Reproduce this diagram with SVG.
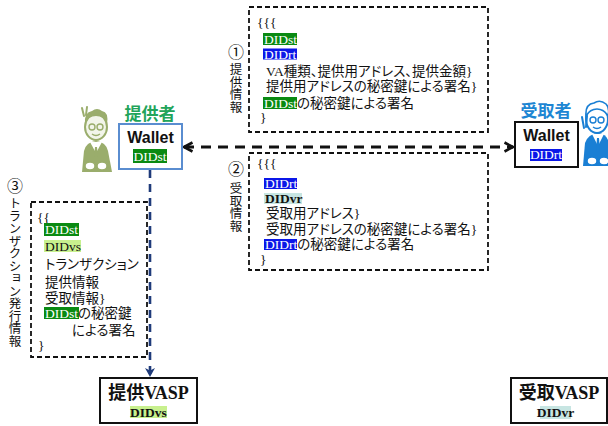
<svg xmlns="http://www.w3.org/2000/svg" width="608" height="426" viewBox="0 0 608 426">
  <style>
    .t { font-family: "Liberation Serif", "Noto Sans CJK JP", serif; font-size: 13.5px; fill: #111; font-feature-settings: "palt"; }
    .jp { font-family: "Noto Sans CJK JP", sans-serif; fill: #111; }
    .vt { font-family: "Noto Sans CJK JP", sans-serif; font-size: 12.5px; fill: #111; writing-mode: vertical-rl; }
    .num { font-family: "Noto Sans CJK JP", sans-serif; font-size: 16px; fill: #111; text-anchor: middle; }
    .w { fill: #fff; }
    .note { fill: #fff; stroke: #111; stroke-width: 1.8; stroke-dasharray: 5 3; }
    .hl-g { fill: #0a8a12; }
    .hl-b { fill: #0b17e8; }
    .hl-lg { fill: #c8f08e; }
    .hl-lt { fill: #c7e5e2; }
    .wallet-t { font-family: "Liberation Sans", Arial, sans-serif; font-weight: bold; font-size: 16px; fill: #111; text-anchor: middle; }
    .vasp-t { font-family: "Liberation Serif", "Noto Sans CJK JP", serif; font-weight: bold; font-size: 18px; fill: #111; text-anchor: middle; }
  </style>
  <defs>
    <marker id="chev-k" viewBox="0 0 12 12" refX="10.5" refY="6" markerWidth="12" markerHeight="12" markerUnits="userSpaceOnUse" orient="auto-start-reverse">
      <path d="M2,1.5 L10.5,6 L2,10.5" fill="none" stroke="#111" stroke-width="2.6" stroke-linejoin="miter"/>
    </marker>
    <marker id="chev-n" viewBox="0 0 12 12" refX="10.5" refY="6" markerWidth="12" markerHeight="12" markerUnits="userSpaceOnUse" orient="auto">
      <path d="M1.5,1 L10.5,6 L1.5,11 L4,6 Z" fill="#1f3b7a"/>
    </marker>
  </defs>

  <rect width="608" height="426" fill="#fff"/>

  <!-- connectors -->
  <g id="connectors">
    <path d="M184,147 L513,147" fill="none" stroke="#111" stroke-width="2.8" stroke-dasharray="10 7" marker-start="url(#chev-k)" marker-end="url(#chev-k)"/>
    <path d="M150,170 L150,377" fill="none" stroke="#1f3b7a" stroke-width="2.6" stroke-dasharray="8 6" marker-end="url(#chev-n)"/>
  </g>

  <!-- giver figure -->
  <g id="giver-figure">
    <path d="M82,172 L84,151 Q86,142 96,141 Q106,142 108,151 L112,172 Z" fill="#9aad6c"/>
    <path d="M90,142 L96,153 L102,142 Z" fill="#fff"/>
    <path d="M95,147 L97,147 L98,157 L96,159 L94,157 Z" fill="#9aad6c"/>
    <ellipse cx="96" cy="127" rx="11" ry="13" fill="#f2f5ea" stroke="#9aad6c" stroke-width="2"/>
    <path d="M85,124 Q84,112 92,111 Q97,107 102,111 Q109,112 107,124 Q104,116 96,116 Q88,116 85,124 Z" fill="#9aad6c"/>
    <path d="M84,116 L82,108 M86,115 L87,107" stroke="#9aad6c" stroke-width="2" stroke-linecap="round"/>
    <circle cx="92" cy="127" r="3" fill="none" stroke="#9aad6c" stroke-width="1.4"/>
    <circle cx="100" cy="127" r="3" fill="none" stroke="#9aad6c" stroke-width="1.4"/>
    <path d="M92,134 Q96,137 100,134" fill="none" stroke="#9aad6c" stroke-width="1.4"/>
    <ellipse cx="90" cy="166" rx="5" ry="4" fill="#fff" stroke="#9aad6c" stroke-width="1.5"/>
    <ellipse cx="102" cy="166" rx="5" ry="4" fill="#fff" stroke="#9aad6c" stroke-width="1.5"/>
  </g>

  <!-- receiver figure -->
  <g id="receiver-figure">
    <path d="M583,166 L585,143 Q588,134 598,133 Q606,134 608,140 L608,166 Z" fill="#1a7fd4"/>
    <path d="M592,134 L598,146 L604,134 Z" fill="#fff"/>
    <path d="M597,138 L599,138 L600,150 L598,152 L596,150 Z" fill="#1a7fd4"/>
    <ellipse cx="597" cy="119" rx="11" ry="14" fill="#fff" stroke="#1a7fd4" stroke-width="2"/>
    <path d="M586,116 Q585,104 594,103 Q600,99 606,104 Q610,108 608,116 Q604,109 597,109 Q590,109 586,116 Z" fill="#fff" stroke="#1a7fd4" stroke-width="1.6"/>
    <path d="M584,128 L582,117 M586,127 L587,116" stroke="#1a7fd4" stroke-width="2" stroke-linecap="round"/>
    <circle cx="593" cy="120" r="3" fill="none" stroke="#1a7fd4" stroke-width="1.4"/>
    <circle cx="601" cy="120" r="3" fill="none" stroke="#1a7fd4" stroke-width="1.4"/>
    <path d="M593,127 Q597,130 601,127" fill="none" stroke="#1a7fd4" stroke-width="1.4"/>
    <ellipse cx="592" cy="161" rx="5" ry="4" fill="#fff" stroke="#1a7fd4" stroke-width="1.5"/>
    <ellipse cx="604" cy="161" rx="5" ry="4" fill="#fff" stroke="#1a7fd4" stroke-width="1.5"/>
  </g>

  <!-- giver wallet -->
  <g id="giver-wallet">
    <text class="jp" x="150" y="120" font-size="17" font-weight="bold" text-anchor="middle" style="fill:#22a45a">提供者</text>
    <rect x="119" y="124" width="63" height="45" fill="#fff" stroke="#5a8dd0" stroke-width="2"/>
    <text class="wallet-t" x="150.5" y="143">Wallet</text>
    <rect class="hl-g" x="133" y="149" width="34" height="14"/>
    <text class="t" x="150" y="160.5" font-size="14" text-anchor="middle" style="fill:#fff">DIDst</text>
  </g>

  <!-- receiver wallet -->
  <g id="receiver-wallet">
    <text class="jp" x="546" y="117" font-size="17" font-weight="bold" text-anchor="middle" style="fill:#1d86d3">受取者</text>
    <rect x="515" y="122" width="63" height="45" fill="#fff" stroke="#111" stroke-width="2"/>
    <text class="wallet-t" x="546.5" y="141">Wallet</text>
    <rect class="hl-b" x="530" y="149" width="32" height="12"/>
    <text class="t" x="546" y="159" font-size="13.5" text-anchor="middle" style="fill:#fff">DIDrt</text>
  </g>

  <!-- giver VASP -->
  <g id="giver-vasp">
    <rect x="100" y="378" width="97" height="45" fill="#fff" stroke="#111" stroke-width="2"/>
    <text class="vasp-t" x="148.5" y="399">提供VASP</text>
    <rect class="hl-lg" x="130" y="406" width="37" height="12"/>
    <text class="t" x="148.5" y="416.5" font-size="13" font-weight="bold" text-anchor="middle">DIDvs</text>
  </g>

  <!-- receiver VASP -->
  <g id="receiver-vasp">
    <rect x="511" y="378" width="96" height="45" fill="#fff" stroke="#111" stroke-width="2"/>
    <text class="vasp-t" x="559" y="399">受取VASP</text>
    <rect class="hl-lt" x="540" y="406" width="31" height="13"/>
    <text class="t" x="555.5" y="416.5" font-size="12.5" font-weight="bold" text-anchor="middle">DIDvr</text>
  </g>

  <!-- (1) giver information -->
  <g id="giver-info">
    <rect class="note" x="249" y="7" width="239" height="125"/>
    <text class="num" x="236" y="58">①</text>
    <text class="vt" x="236" y="63">提供情報</text>
    <text class="t" x="257" y="27">{{{</text>
    <rect class="hl-g" x="263" y="33" width="34" height="12"/>
    <text class="t" x="264" y="43.5" style="fill:#fff">DIDst</text>
    <rect class="hl-b" x="263" y="48.5" width="34" height="11"/>
    <text class="t" x="264" y="58.5" style="fill:#fff">DIDrt</text>
    <text class="t" x="266" y="76">VA種類、提供用アドレス、提供金額}</text>
    <text class="t" x="266" y="91">提供用アドレスの秘密鍵による署名}</text>
    <rect class="hl-g" x="263" y="97" width="34" height="12"/>
    <text class="t" x="264" y="107.5"><tspan style="fill:#fff">DIDst</tspan>の秘密鍵による署名</text>
    <text class="t" x="260" y="122">}</text>
  </g>

  <!-- (2) receiver information -->
  <g id="receiver-info">
    <rect class="note" x="249" y="153" width="239" height="117"/>
    <text class="num" x="236" y="175">②</text>
    <text class="vt" x="236" y="182">受取情報</text>
    <text class="t" x="257" y="168">{{{</text>
    <rect class="hl-b" x="264" y="178" width="33" height="11"/>
    <text class="t" x="265" y="187.5" style="fill:#fff">DIDrt</text>
    <rect class="hl-lt" x="264" y="193" width="38" height="11"/>
    <text class="t" x="265" y="202.5" font-weight="bold">DIDvr</text>
    <text class="t" x="266" y="218">受取用アドレス}</text>
    <text class="t" x="266" y="234">受取用アドレスの秘密鍵による署名}</text>
    <rect class="hl-b" x="264" y="239" width="33" height="11"/>
    <text class="t" x="265" y="249"><tspan style="fill:#fff">DIDrt</tspan>の秘密鍵による署名</text>
    <text class="t" x="260" y="264">}</text>
  </g>

  <!-- (3) transaction issue information -->
  <g id="tx-info">
    <rect class="note" x="31" y="202" width="116" height="155"/>
    <text class="num" x="15" y="192">③</text>
    <text class="vt" x="15" y="197">トランザクション発行情報</text>
    <text class="t" x="37" y="222">{{</text>
    <rect class="hl-g" x="44" y="223" width="35" height="13"/>
    <text class="t" x="45" y="234" style="fill:#fff">DIDst</text>
    <rect class="hl-lg" x="44" y="240" width="37" height="12"/>
    <text class="t" x="45" y="251">DIDvs</text>
    <text class="t" x="45" y="269">トランザクション</text>
    <text class="t" x="45" y="287">提供情報</text>
    <text class="t" x="45" y="303">受取情報}</text>
    <rect class="hl-g" x="44" y="307" width="35" height="12"/>
    <text class="t" x="45" y="318"><tspan style="fill:#fff">DIDst</tspan>の秘密鍵</text>
    <text class="t" x="72" y="335">による署名</text>
    <text class="t" x="38" y="350">}</text>
  </g>
</svg>
